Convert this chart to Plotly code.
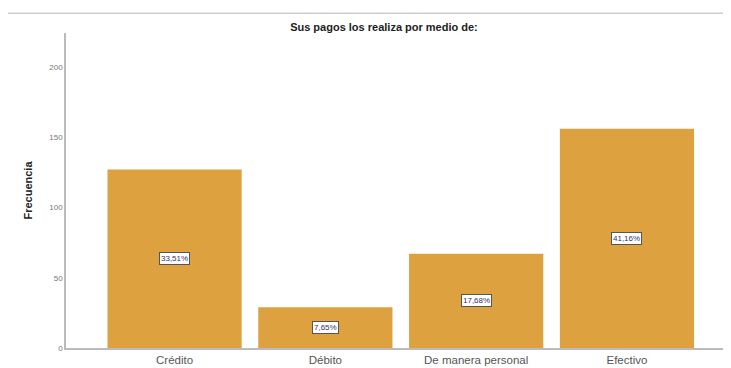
import plotly.graph_objects as go

# datos
categorias = ["Crédito", "Débito", "De manera personal", "Efectivo"]
frecuencias = [127, 29, 67, 156]
porcentajes = ["33,51%", "7,65%", "17,68%", "41,16%"]

color_barra = "#DDA13F"

fig = go.Figure(
    data=[
        go.Bar(
            x=categorias,
            y=frecuencias,
            marker=dict(color=color_barra, line=dict(width=0)),
            width=0.89,
            hoverinfo="x+y",
        )
    ]
)

# etiquetas de porcentaje en el centro de cada barra
for cat, val, pct in zip(categorias, frecuencias, porcentajes):
    fig.add_annotation(
        x=cat, y=val / 2, text=pct, showarrow=False,
        font=dict(size=8, color="#333366", family="Liberation Sans"),
        bgcolor="white", bordercolor="#555555", borderwidth=1, borderpad=1,
    )

# línea gris superior
fig.add_shape(
    type="line", xref="paper", yref="paper",
    x0=-0.087, x1=1.02, y0=1.063, y1=1.063,
    line=dict(color="#cccccc", width=1.5),
)

# la página tiene un margen de 8px en el body, así que la figura es algo más pequeña
fig.update_layout(
    width=723, height=360,
    margin=dict(l=58, r=0, t=25, b=20),
    paper_bgcolor="white", plot_bgcolor="white",
    font=dict(family="Liberation Sans"),
    showlegend=False,
    title=dict(
        text="<b>Sus pagos los realiza por medio de:</b>",
        x=0.52, xanchor="center", y=1 - 19 / 360, yanchor="middle",
        font=dict(size=11, color="#222222"),
    ),
    xaxis=dict(
        range=[-0.72, 3.69],
        showline=True, linecolor="#bbbbbb", linewidth=1.5,
        ticks="", showgrid=False, automargin=False,
        tickfont=dict(size=11.5, color="#555555"),
    ),
    yaxis=dict(
        range=[0, 224],
        tickvals=[0, 50, 100, 150, 200],
        showline=True, linecolor="#bbbbbb", linewidth=1.5,
        ticks="", showgrid=False, zeroline=False, automargin=False,
        tickfont=dict(size=8, color="#777777"),
        title=dict(text="<b>Frecuencia</b>", standoff=14,
                   font=dict(size=11, color="#222222")),
    ),
)

fig.write_html("out.html")
